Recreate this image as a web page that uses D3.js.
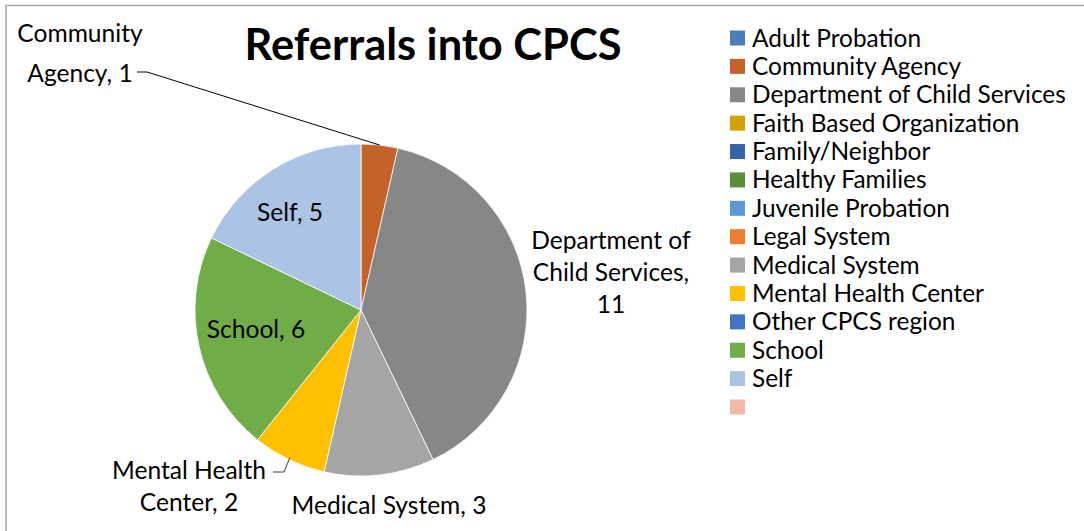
<!DOCTYPE html>
<html><head><meta charset="utf-8">
<script src="https://cdn.jsdelivr.net/npm/d3@7/dist/d3.min.js"></script>
<style>
html,body{margin:0;padding:0;background:#fff;}
svg{display:block;}
text{font-family:Lato,"Open Sans",sans-serif;fill:#000;}
</style></head>
<body>
<svg id="c" width="1084" height="531"></svg>
<script>
// ---- data ----
const legendCategories = ["Adult Probation","Community Agency","Department of Child Services","Faith Based Organization","Family/Neighbor","Healthy Families","Juvenile Probation","Legal System","Medical System","Mental Health Center","Other CPCS region","School","Self",""];
const legendColors = ["#4A7EBB","#C5622A","#878787","#D4A000","#3761A8","#5A8F3A","#5B9BD5","#ED7D31","#A5A5A5","#FFC000","#4472C4","#70AD47","#ABC4E6","#F4B9A5"];
const sliceCategories = ["Community Agency","Department of Child Services","Medical System","Mental Health Center","School","Self"];
const sliceValues = [1,11,3,2,6,5];
const sliceLabelLines = [["Community","Agency, 1"],["Department of","Child Services,","11"],["Medical System, 3"],["Mental Health","Center, 2"],["School, 6"],["Self, 5"]];
const title = "Referrals into CPCS";

// ---- layout ----
const W = 1084, H = 531;
const cx = 361, cy = 310, R = 166;
const labelPos = [[80,33],[611,240],[389,505],[189,470],[256,329],[290,212]];
const lineH = 32;

const svg = d3.select("#c");
const colorOf = d3.scaleOrdinal().domain(legendCategories).range(legendColors);

// border
svg.append("rect").attr("x",6).attr("y",5.5).attr("width",1200).attr("height",600)
  .attr("fill","none").attr("stroke","#a6a6a6").attr("stroke-width",1.5);

// fit helper
function fit(sel, target, base){
  const w = sel.node().getComputedTextLength();
  sel.attr("font-size", base*target/w);
}

// title
const t = svg.append("text").attr("x",433).attr("y",60).attr("text-anchor","middle")
  .attr("font-weight","bold").attr("font-size",40).text(title);
fit(t, 377, 40);

// pie
const pie = d3.pie().sort(null).value(d=>d)(sliceValues);
const arc = d3.arc().innerRadius(0).outerRadius(R);
const g = svg.append("g").attr("transform",`translate(${cx},${cy})`);
g.selectAll("path").data(pie).enter().append("path")
  .attr("d",arc).attr("fill",(d,i)=>colorOf(sliceCategories[i]))
  .attr("stroke","#fff").attr("stroke-width",0.75);

// leader lines
const caArc = pie[0];
const caAng = (caArc.startAngle+caArc.endAngle)/2;
const caPt = [cx+R*Math.sin(caAng), cy-R*Math.cos(caAng)];
svg.append("polyline").attr("points",`137,72 147,72 ${caPt[0]},${caPt[1]}`)
  .attr("fill","none").attr("stroke","#000").attr("stroke-width",1);
const mhArc = pie[3];
const mhAng = (mhArc.startAngle+mhArc.endAngle)/2;
const mhPt = [cx+(R-2)*Math.sin(mhAng), cy-(R-2)*Math.cos(mhAng)];
svg.append("polyline").attr("points",`273,472 284,472 ${mhPt[0]},${mhPt[1]}`)
  .attr("fill","none").attr("stroke","#404040").attr("stroke-width",1);

// labels: measure font size from "Medical System, 3" width 195
const probe = svg.append("text").attr("font-size",20).text("Medical System, 3");
const lblSize = 20*195/probe.node().getComputedTextLength();
probe.remove();

sliceLabelLines.forEach((lines,i)=>{
  const [lx,ly] = labelPos[i];
  const n = lines.length;
  lines.forEach((s,k)=>{
    let y;
    if(i===0) y = ly + k*40;
    else if(i===3) y = ly + k*lineH;
    else y = ly + k*lineH;
    svg.append("text").attr("x",lx).attr("y",y).attr("dy","0.35em")
      .attr("text-anchor","middle").attr("font-size",lblSize).text(s);
  });
});

// legend
const lg = svg.append("g");
const legY = d3.scalePoint().domain(d3.range(legendCategories.length)).range([38,407]);
const probe2 = svg.append("text").attr("font-size",20).text("Department of Child Services");
const legSize = 20*314/probe2.node().getComputedTextLength();
probe2.remove();
legendCategories.forEach((c,i)=>{
  const y = legY(i);
  lg.append("rect").attr("x",730).attr("y",y-7.5).attr("width",15).attr("height",15).attr("fill",legendColors[i]);
  lg.append("text").attr("x",752).attr("y",y).attr("dy","0.35em").attr("font-size",legSize).text(c);
});
</script>
</body></html>
